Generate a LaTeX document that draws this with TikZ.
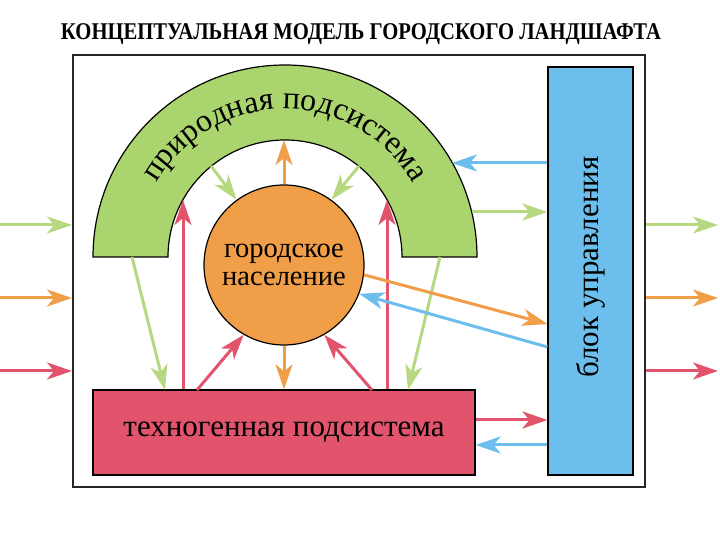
\documentclass[tikz,border=0pt]{standalone}
\usepackage{fontspec}
\setmainfont{Liberation Serif}
\definecolor{natgreen}{RGB}{170,212,110}
\definecolor{arrgreen}{RGB}{182,216,128}
\definecolor{popurange}{RGB}{240,158,72}
\definecolor{techred}{RGB}{226,84,108}
\definecolor{ctrlblue}{RGB}{108,190,236}
\usetikzlibrary{
  arrows.meta,
  calc,
  decorations.text,
  positioning,
}
\tikzset{
  >={Stealth[length=25pt,width=17pt,inset=7pt]},
  flow/.style={->, line width=3pt},
  blockbox/.style={draw=black, line width=1.2pt, rectangle, inner sep=0pt},
}

\begin{document}
\begin{tikzpicture}[x=1pt,y=1pt]
        \useasboundingbox (0,0) rectangle (720,540);

        \node (title) at (361,506) {\scalebox{0.86}[1]{\fontsize{24}{24}\selectfont\bfseries КОНЦЕПТУАЛЬНАЯ МОДЕЛЬ ГОРОДСКОГО ЛАНДШАФТА}};
        \node[draw=black!85, line width=2pt, minimum width=572, minimum height=432, inner sep=0pt] (frame) at (359,269) {};

        % natural subsystem (arch)
        \coordinate (archc) at (285,283);
        \filldraw[fill=natgreen, draw=black, line width=1.2pt] (archc) ++(180:192) arc[start angle=180, end angle=0, radius=192] -- ++(-75,0) arc[start angle=0, end angle=180, radius=117] -- cycle;
        \path[decorate, decoration={text along path, text align=center, text=|\fontsize{32}{32}\selectfont|природная подсистема}] (archc) ++(170:148) arc[start angle=170, end angle=10, radius=148];

        \node[circle, draw=black, line width=1.2pt, fill=popurange, minimum size=160pt, inner sep=0pt, align=center, font=\fontsize{28.5}{28}\selectfont] (pop) at (284,275) {городское\\население};
        \node[blockbox, fill=techred, minimum width=382pt, minimum height=85pt, font=\fontsize{31}{31}\selectfont] (tech) at (284,107.5) {техногенная подсистема};
        \node[blockbox, fill=ctrlblue, minimum width=85pt, minimum height=408pt] (ctrl) at (590.5,269) {};
        \node[rotate=90, font=\fontsize{31}{31}\selectfont] (ctrltext) at ([yshift=4]ctrl.center) {блок управления};

        % points on the arch
        \coordinate (in-top) at (284,400);
        \coordinate (in-l) at (211,374);
        \coordinate (in-r) at (359,374);
        \coordinate (in-lv) at (183,340);
        \coordinate (in-rv) at (387,340);
        \coordinate (leg-l) at (132,283);
        \coordinate (leg-r) at (440,283);
        \coordinate (out-e1) at (452,377);
        \coordinate (out-e2) at (472,328);
        \coordinate (tech-l) at (165,150);
        \coordinate (tech-r) at (408,150);
        \coordinate (tech-dl) at (197,150);
        \coordinate (tech-dr) at (372,150);
        \coordinate (t2c) at ([yshift=12.5]tech.east);
        \coordinate (c2t) at ([yshift=-12.5]tech.east);

        % inputs and outputs
        \coordinate (inG) at (0,315);
        \coordinate (inO) at (0,242);
        \coordinate (inR) at (0,169);
        \coordinate (outG) at (718,315);
        \coordinate (outO) at (718,242);
        \coordinate (outR) at (718,169);
        \draw[flow, arrgreen] (inG) -- (frame.west |- inG);
        \draw[flow, popurange] (inO) -- (frame.west |- inO);
        \draw[flow, techred] (inR) -- (frame.west |- inR);
        \draw[flow, arrgreen] (frame.east |- outG) -- (outG);
        \draw[flow, popurange] (frame.east |- outO) -- (outO);
        \draw[flow, techred] (frame.east |- outR) -- (outR);

        % inside
        \draw[flow, popurange] (pop.north) -- (in-top);
        \draw[flow, popurange] (pop.south) -- (pop.south |- tech.north);
        \draw[flow, arrgreen] (in-l) -- (pop.126);
        \draw[flow, arrgreen] (in-r) -- (pop.54);
        \draw[flow, techred] (in-lv |- tech.north) -- (in-lv);
        \draw[flow, techred] (in-rv |- tech.north) -- (in-rv);
        \draw[flow, techred] (tech-dl) -- (pop.240);
        \draw[flow, techred] (tech-dr) -- (pop.300);
        \draw[flow, arrgreen] (leg-l) -- (tech-l);
        \draw[flow, arrgreen] (leg-r) -- (tech-r);
        \draw[flow, ctrlblue] (ctrl.west |- out-e1) -- (out-e1);
        \draw[flow, arrgreen] (out-e2) -- (ctrl.west |- out-e2);
        \draw[flow, popurange] (pop.-7) -- (ctrl.west |- 0,216);
        \draw[flow, ctrlblue] (ctrl.west |- 0,193) -- (pop.-21);
        \draw[flow, techred] (t2c) -- (t2c -| ctrl.west);
        \draw[flow, ctrlblue] (c2t -| ctrl.west) -- (c2t);

    \end{tikzpicture}
\end{document}
